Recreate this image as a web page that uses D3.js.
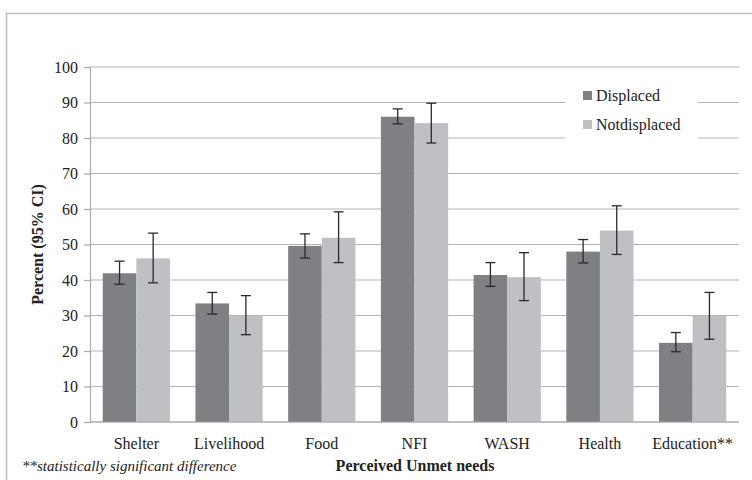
<!DOCTYPE html>
<html>
<head>
<meta charset="utf-8">
<script src="https://cdn.jsdelivr.net/npm/d3@7"></script>
<style>
  body { margin: 0; background: #fff; }
  text { font-family: "Liberation Serif", serif; fill: #222; }
</style>
</head>
<body>
<div id="chart-area"></div>
<script>
// Data
const categories = ["Shelter", "Livelihood", "Food", "NFI", "WASH", "Health", "Education**"];
const seriesNames = ["Displaced", "Notdisplaced"];
const displaced = [41.9, 33.4, 49.6, 86.0, 41.4, 48.0, 22.3];
const displacedLow = [38.8, 30.4, 46.2, 84.0, 38.2, 44.8, 19.8];
const displacedHigh = [45.3, 36.5, 53.0, 88.2, 44.9, 51.4, 25.2];
const notDisplaced = [46.1, 29.9, 51.9, 84.2, 40.8, 53.9, 29.9];
const notDisplacedLow = [39.2, 24.6, 44.9, 78.6, 34.2, 47.2, 23.3];
const notDisplacedHigh = [53.2, 35.6, 59.2, 89.8, 47.7, 60.9, 36.5];
const yTicks = [0, 10, 20, 30, 40, 50, 60, 70, 80, 90, 100];

const colors = {"Displaced": "#7f7f84", "Notdisplaced": "#bfc0c4"};

let width = 752, height = 480;
let margin = {top: 67, right: 13, bottom: 58, left: 90};

let svg = d3.select("#chart-area").append("svg")
    .attr("width", width)
    .attr("height", height);

// outer frame (clipped at right/bottom like the reference)
svg.append("path")
    .attr("d", "M6.5," + height + "V13.5H" + width)
    .attr("fill", "none")
    .attr("stroke", "#bdbdbd")
    .attr("stroke-width", 1.5);

let x0 = d3.scaleBand()
    .domain(categories)
    .range([margin.left, width - margin.right])
    .paddingInner(0.275)
    .paddingOuter(0.1375);

let x1 = d3.scaleBand()
    .domain(seriesNames)
    .range([0, x0.bandwidth()]);

let y = d3.scaleLinear()
    .domain([0, 100])
    .range([height - margin.bottom, margin.top]);

// gridlines
svg.append("g")
    .selectAll("line")
    .data(yTicks)
    .enter()
    .append("line")
    .attr("x1", margin.left)
    .attr("x2", width - margin.right)
    .attr("y1", d => y(d))
    .attr("y2", d => y(d))
    .attr("stroke", "#b4b4b4")
    .attr("stroke-width", 1.2);

// y axis
let yAxis = d3.axisLeft(y).tickValues(yTicks).tickSize(6).tickPadding(6);
let yG = svg.append("g")
    .attr("transform", "translate(" + margin.left + ",0)")
    .call(yAxis);
yG.selectAll("path, line").attr("stroke", "#a9a9a9").attr("stroke-width", 1.2);
yG.selectAll("text")
    .style("font-family", "Liberation Serif")
    .style("font-size", "16px")
    .attr("fill", "#222");

// bars
let rows = categories.map((c, i) => ({
  cat: c,
  values: [
    {name: "Displaced", v: displaced[i], lo: displacedLow[i], hi: displacedHigh[i]},
    {name: "Notdisplaced", v: notDisplaced[i], lo: notDisplacedLow[i], hi: notDisplacedHigh[i]}
  ]
}));

let groups = svg.append("g")
    .selectAll("g")
    .data(rows)
    .enter()
    .append("g")
    .attr("transform", d => "translate(" + x0(d.cat) + ",0)");

groups.selectAll("rect")
    .data(d => d.values)
    .enter()
    .append("rect")
    .attr("x", d => x1(d.name))
    .attr("width", x1.bandwidth())
    .attr("y", d => y(d.v))
    .attr("height", d => y(0) - y(d.v))
    .attr("fill", d => colors[d.name]);

// error bars
let cap = 5;
let err = groups.selectAll(".err")
    .data(d => d.values)
    .enter()
    .append("g")
    .attr("class", "err")
    .attr("stroke", "#2a2a2a")
    .attr("stroke-width", 1.3);
err.append("line")
    .attr("x1", d => x1(d.name) + x1.bandwidth() / 2)
    .attr("x2", d => x1(d.name) + x1.bandwidth() / 2)
    .attr("y1", d => y(d.lo))
    .attr("y2", d => y(d.hi));
err.append("line")
    .attr("x1", d => x1(d.name) + x1.bandwidth() / 2 - cap)
    .attr("x2", d => x1(d.name) + x1.bandwidth() / 2 + cap)
    .attr("y1", d => y(d.hi))
    .attr("y2", d => y(d.hi));
err.append("line")
    .attr("x1", d => x1(d.name) + x1.bandwidth() / 2 - cap)
    .attr("x2", d => x1(d.name) + x1.bandwidth() / 2 + cap)
    .attr("y1", d => y(d.lo))
    .attr("y2", d => y(d.lo));

// x axis baseline
svg.append("line")
    .attr("x1", margin.left)
    .attr("x2", width - margin.right)
    .attr("y1", y(0))
    .attr("y2", y(0))
    .attr("stroke", "#a9a9a9")
    .attr("stroke-width", 1.2);

// category labels
svg.append("g")
    .selectAll("text")
    .data(categories)
    .enter()
    .append("text")
    .attr("x", d => x0(d) + x0.bandwidth() / 2)
    .attr("y", y(0) + 27)
    .attr("text-anchor", "middle")
    .style("font-size", "16px")
    .text(d => d);

// axis titles
svg.append("text")
    .attr("x", 415)
    .attr("y", 471)
    .attr("text-anchor", "middle")
    .style("font-size", "16px")
    .style("font-weight", "bold")
    .text("Perceived Unmet needs");

svg.append("text")
    .attr("transform", "translate(43," + (margin.top + (y(0) - margin.top) / 2) + ") rotate(-90)")
    .attr("text-anchor", "middle")
    .style("font-size", "16px")
    .style("font-weight", "bold")
    .text("Percent (95% CI)");

svg.append("text")
    .attr("x", 22)
    .attr("y", 471)
    .style("font-size", "15px")
    .style("font-style", "italic")
    .text("**statistically significant difference");

// legend
let legend = svg.append("g");
legend.append("rect")
    .attr("x", 565)
    .attr("y", 88)
    .attr("width", 133)
    .attr("height", 53)
    .attr("fill", "#fff");
let items = legend.selectAll(".item")
    .data(seriesNames)
    .enter()
    .append("g")
    .attr("class", "item")
    .attr("transform", (d, i) => "translate(583," + (91 + i * 29) + ")");
items.append("rect")
    .attr("width", 9)
    .attr("height", 9)
    .attr("fill", d => colors[d]);
items.append("text")
    .attr("x", 13)
    .attr("y", 10)
    .style("font-size", "16px")
    .text(d => d);
</script>
</body>
</html>
